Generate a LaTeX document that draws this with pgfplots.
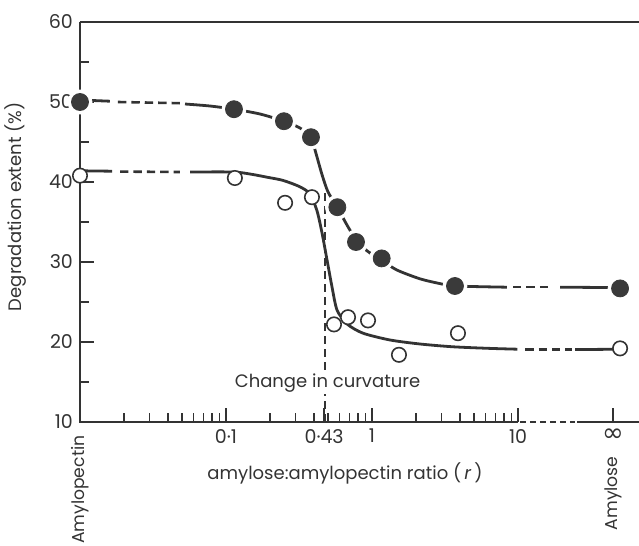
\documentclass[border=0pt]{standalone}
\usepackage{fontspec}
\setmainfont{Poppins}
\newfontfamily\dejavu{DejaVu Sans}
\usepackage{pgfplots}
\pgfplotsset{compat=1.18}
\definecolor{ink}{HTML}{333333}
\definecolor{dot}{HTML}{3A3A3A}
\newcommand{\lab}{\fontsize{9}{10}\selectfont}
\begin{document}
\begin{tikzpicture}
\begin{axis}[
  scale only axis, width=279.5pt, height=200pt,
  xmode=log, xmin=0.01, xmax=67.4, ymin=10, ymax=60,
  axis x line*=bottom, axis y line*=left,
  x axis line style={draw=none}, y axis line style={draw=none},
  tick align=inside,
  xtick={0.1,0.47,1,10,44.7},
  xticklabels={0·1,0·43,1,10,{\dejavu\fontsize{13}{13}\selectfont ∞}},
  minor xtick={0.02,0.03,0.04,0.05,0.06,0.07,0.08,0.09,0.2,0.3,0.4,0.5,0.6,0.7,0.8,0.9,2,3,4,5,6,7,8,9},
  ytick={10,20,30,40,50,60}, minor ytick={15,25,35,45,55},
  major tick length=7pt, minor tick length=4.5pt,
  tick style={ink, line width=0.8pt},
  ticklabel style={font=\fontsize{9.5}{10}\selectfont, text=ink},
  /pgf/number format/assume math mode=true,
  clip=false,
]
% filled series curve
\addplot[ink, line width=1.4pt, smooth, tension=0.45] coordinates {
(0.0524,49.75) (0.0776,49.5) (0.1135,49.1) (0.171,48.5) (0.2496,47.6) (0.321,46.75) (0.382,45.6)
(0.41,43.8) (0.455,40.9) (0.50,38.75) (0.576,36.9) (0.675,34.6) (0.777,32.8) (0.924,31.4)
(1.17,30.2) (1.48,29.0) (2.13,27.9) (2.92,27.3) (3.70,27.0) (8.4,26.85)};
\addplot[ink, line width=1.4pt] coordinates {(0.01,50.25) (0.0160,50.1)};
\addplot[ink, line width=1.3pt, dash pattern=on 4.2pt off 2.5pt] coordinates {(0.0182,50.0) (0.0484,49.85)};
\addplot[ink, line width=1.3pt, dash pattern=on 4.2pt off 2.5pt] coordinates {(9.24,26.85) (17.4,26.85)};
\addplot[ink, line width=1.4pt] coordinates {(19.4,26.85) (50,26.8)};
% open series curve
\addplot[ink, line width=1.4pt, smooth, tension=0.45] coordinates {
(0.0567,41.25) (0.1117,41.25) (0.146,41.0) (0.191,40.6) (0.2456,40.2) (0.321,39.4) (0.376,38.5)
(0.420,36.4) (0.455,33.6) (0.492,30.25) (0.532,26.9) (0.576,24.0) (0.675,22.25) (0.868,21.1)
(1.33,20.25) (2.13,19.75) (3.59,19.4) (6.43,19.2) (9.9,19.1)};
\addplot[ink, line width=1.4pt] coordinates {(0.01,41.4) (0.0166,41.35)};
\addplot[ink, line width=1.3pt, dash pattern=on 4.2pt off 2.5pt] coordinates {(0.0188,41.3) (0.0484,41.25)};
\addplot[ink, line width=1.3pt, dash pattern=on 4.2pt off 2.5pt] coordinates {(11.2,19.05) (23.4,19.05)};
\addplot[ink, line width=1.4pt] coordinates {(24.6,19.05) (50,19.1)};
% halos round the filled points
\addplot[only marks, mark=*, mark size=6pt, mark options={draw=white, fill=white}] coordinates {
(0.01,50) (0.1134,49.1) (0.2494,47.6) (0.382,45.6) (0.579,36.85) (0.777,32.5) (1.165,30.45) (3.70,27.0) (50,26.7)};
% spines
\draw[ink, line width=1pt] (axis cs:0.01,60) -- (axis cs:0.01,10) -- (axis cs:10,10);
\draw[ink, line width=1pt] (axis cs:0.01,60) -- (axis cs:67.4,60);
\draw[ink, line width=1pt, dash pattern=on 3pt off 2pt] (axis cs:10.3,10) -- (axis cs:24.5,10);
\draw[ink, line width=1pt] (axis cs:25.4,10) -- (axis cs:67.4,10);
% markers
\addplot[only marks, mark=*, mark size=4.25pt, mark options={draw=dot, fill=dot}] coordinates {
(0.01,50) (0.1134,49.1) (0.2494,47.6) (0.382,45.6) (0.579,36.85) (0.777,32.5) (1.165,30.45) (3.70,27.0) (50,26.7)};
\addplot[only marks, mark=*, mark size=3.6pt, mark options={draw=ink, fill=white, line width=0.8pt}] coordinates {
(0.01,40.8) (0.115,40.5) (0.2539,37.4) (0.3878,38.1) (0.549,22.2) (0.685,23.1) (0.939,22.7) (1.53,18.4) (3.88,21.1) (50,19.2)};
% change in curvature
\draw[ink, line width=0.7pt, dash pattern=on 4pt off 2.5pt] (axis cs:0.475,10) -- (axis cs:0.475,38.75);
\node[font=\lab, text=ink, fill=white, inner sep=1pt] at (axis cs:0.496,14.9) {Change in curvature};
% labels
\node[font=\fontsize{8.6}{10}\selectfont, text=ink, rotate=90, anchor=east, inner sep=0pt] at ([yshift=-6.5pt]axis cs:0.01,10) {Amylopectin};
\node[font=\fontsize{8.6}{10}\selectfont, text=ink, rotate=90, anchor=east, inner sep=0pt] at ([yshift=-17pt]axis cs:44.7,10) {Amylose};
\node[font=\lab, text=ink] at ([yshift=-25.5pt]axis cs:0.653,10) {amylose:amylopectin ratio (\,\textit{r}\,)};
\node[font=\lab, text=ink, rotate=90] at ([xshift=-32pt]axis cs:0.01,36.9) {Degradation extent (\%)};
\end{axis}
\pgfresetboundingbox
\path (-40pt,-62pt) rectangle (279.5pt,211pt);
\end{tikzpicture}
\end{document}
